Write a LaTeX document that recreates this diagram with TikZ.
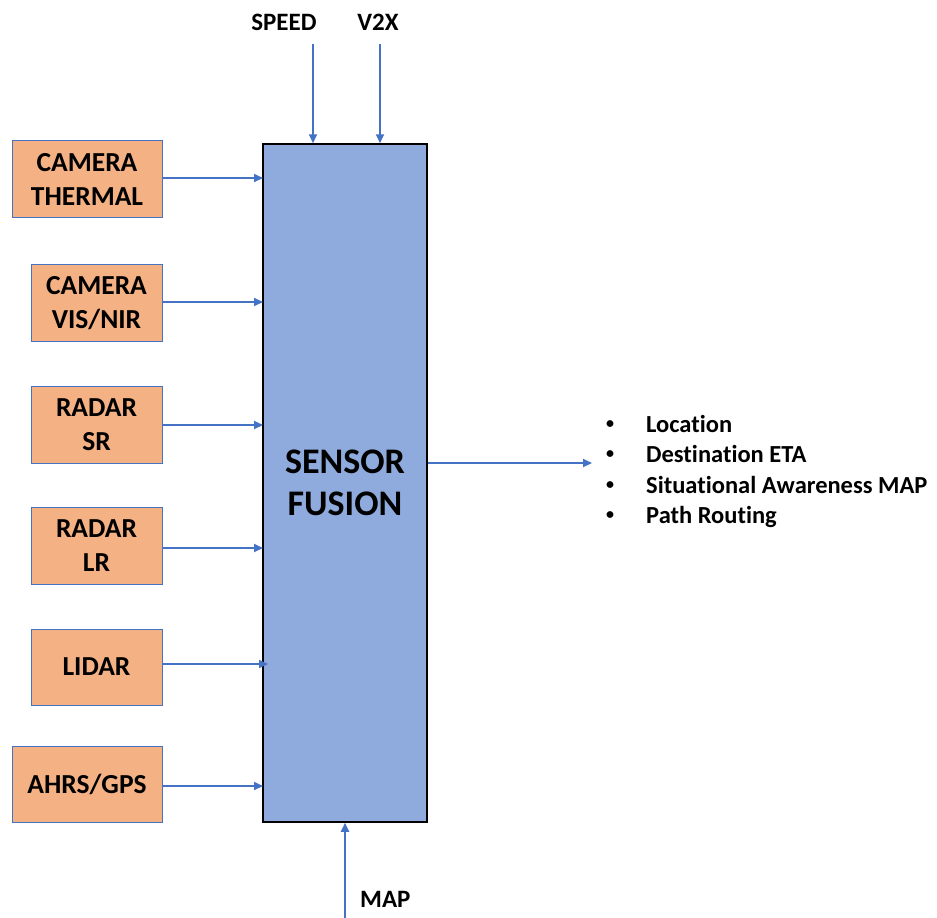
\documentclass[tikz,border=0pt]{standalone}
\usepackage{fontspec}
\setmainfont{Carlito}[Ligatures={NoCommon}]
\usetikzlibrary{arrows.meta}
\definecolor{arrblue}{HTML}{4472C4}
\definecolor{fusblue}{HTML}{8FAADC}
\definecolor{sensor}{HTML}{F4B183}
\newcommand{\mybul}{\makebox[40pt][l]{\raisebox{4pt}{\fontsize{16}{16}\selectfont•}}}
\begin{document}
\begin{tikzpicture}[x=1pt,y=-1pt,
  sbox/.style={draw=arrblue,line width=0.8pt,fill=sensor,inner sep=0pt,align=center,
    font=\fontsize{27.5}{34}\selectfont\bfseries},
  conn/.style={draw=arrblue,line width=2pt,-{Triangle[length=9pt,width=8pt]}},
  lbl/.style={font=\fontsize{25}{28}\selectfont\bfseries,inner sep=0pt}]
\useasboundingbox (0,0) rectangle (937,918);
\node[draw=black,line width=1.5pt,fill=fusblue,minimum width=164pt,minimum height=678pt,inner sep=0pt,
  font=\fontsize{36}{42}\selectfont\bfseries,align=center] (fus) at (345,483) {SENSOR\\FUSION};
\node[sbox,minimum width=150pt,minimum height=77pt] (b1) at (87,179) {CAMERA\\THERMAL};
\node[sbox,minimum width=131pt,minimum height=77pt] (b2) at (96.5,303) {CAMERA\\VIS/NIR};
\node[sbox,minimum width=131pt,minimum height=77pt] (b3) at (96.5,425) {RADAR\\SR};
\node[sbox,minimum width=131pt,minimum height=77pt] (b4) at (96.5,546) {RADAR\\LR};
\node[sbox,minimum width=131pt,minimum height=76pt] (b5) at (96.5,667) {LIDAR};
\node[sbox,minimum width=150pt,minimum height=76pt] (b6) at (87,784) {AHRS/GPS};
\draw[conn] (b1.east|-0,178) -- (263,178);
\draw[conn] (b2.east|-0,302) -- (263,302);
\draw[conn] (b3.east|-0,425) -- (263,425);
\draw[conn] (b4.east|-0,548) -- (263,548);
\draw[conn] (b5.east|-0,664) -- (268,664);
\draw[conn] (b6.east|-0,786) -- (263,786);
\node[lbl] (speed) at (284,22) {SPEED};
\node[lbl] (v2x) at (378,22) {V2X};
\coordinate (s0) at (313,44);
\coordinate (v0) at (380,44);
\draw[conn] (s0) -- (s0|-fus.north);
\draw[conn] (v0) -- (v0|-fus.north);
\coordinate (m0) at (345,918);
\draw[conn] (m0) -- (fus.south);
\node[lbl,anchor=west] (map) at (360,899) {MAP};
\coordinate (out) at (592,463);
\draw[conn] (fus.east|-out) -- (out);
\node[anchor=north west,inner sep=0pt,font=\fontsize{24.5}{30.5}\selectfont\bfseries,align=left] (list) at (606,415)
  {\mybul Location\\\mybul Destination ETA\\\mybul Situational Awareness MAP\\\mybul Path Routing};
\end{tikzpicture}
\end{document}
